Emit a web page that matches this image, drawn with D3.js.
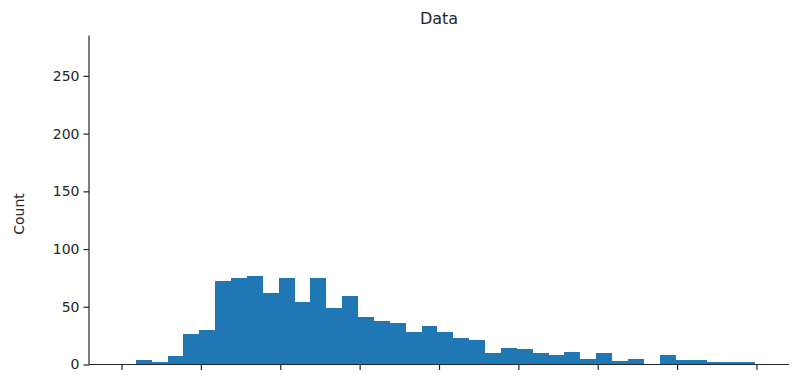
<!DOCTYPE html>
<html>
<head>
<meta charset="utf-8">
<script src="https://cdn.jsdelivr.net/npm/d3@7"></script>
<style>
  html, body { margin: 0; padding: 0; background: #fff; }
  svg { display: block; font-family: "DejaVu Sans", sans-serif; }
</style>
</head>
<body>
<svg id="chart" width="795" height="375"></svg>
<script>
// Histogram counts, one per bin, left to right
const counts = [4, 2, 7, 26, 30, 72, 75, 77, 62, 75, 54, 75, 49, 59, 41, 38, 36, 28, 33, 28,
                23, 21, 10, 14, 13, 10, 8, 11, 5, 10, 3, 5, 0, 8, 4, 4, 2, 2, 2];
// First bin edge and bin width, in data units
const binStart = 0.18;
const binWidth = 0.2;
// Axis ticks
const xTicks = [0, 1, 2, 3, 4, 5, 6, 7, 8];
const yTicks = [0, 50, 100, 150, 200, 250];
const xDomain = [-0.41, 8.41];
const yDomain = [0, 285];

const title = "Data";
const yLabel = "Count";

const ink = "#262626";
const barColor = "#1f77b4";

const svg = d3.select("#chart");
const plot = { left: 89, right: 789, top: 35.5, bottom: 364.5 };

const x = d3.scaleLinear().domain(xDomain).range([plot.left, plot.right]);
const y = d3.scaleLinear().domain(yDomain).range([plot.bottom, plot.top]);

const bins = counts.map((c, i) => ({
  x0: binStart + i * binWidth,
  x1: binStart + (i + 1) * binWidth,
  count: c
}));

// Bars (crisp edges so neighbouring bins merge without seams)
svg.append("g")
  .attr("shape-rendering", "crispEdges")
  .selectAll("rect")
  .data(bins.filter(d => d.count > 0))
  .join("rect")
  .attr("x", d => x(d.x0))
  .attr("width", d => x(d.x1) - x(d.x0))
  .attr("y", d => y(d.count))
  .attr("height", d => y(0) - y(d.count))
  .attr("fill", barColor);

// Y axis
const yAxis = svg.append("g")
  .attr("transform", `translate(${plot.left},0)`)
  .call(d3.axisLeft(y).tickValues(yTicks).tickSize(5.5).tickPadding(4));
yAxis.select(".domain").remove();
yAxis.selectAll(".tick line").attr("stroke", ink).attr("stroke-width", 1.2);
yAxis.selectAll(".tick text")
  .attr("fill", ink)
  .style("font-size", "14px")
  .style("font-family", "DejaVu Sans, sans-serif");
yAxis.append("line")
  .attr("x1", 0).attr("x2", 0)
  .attr("y1", plot.top).attr("y2", plot.bottom)
  .attr("stroke", ink).attr("stroke-width", 1.2);

// X axis (ticks without labels)
const xAxis = svg.append("g")
  .attr("transform", `translate(0,${plot.bottom})`)
  .call(d3.axisBottom(x).tickValues(xTicks).tickSize(5.5).tickFormat(() => ""));
xAxis.select(".domain").remove();
xAxis.selectAll(".tick line").attr("stroke", ink).attr("stroke-width", 1.2);
xAxis.append("line")
  .attr("x1", plot.left).attr("x2", plot.right)
  .attr("y1", 0).attr("y2", 0)
  .attr("stroke", ink).attr("stroke-width", 1.2);

// Title
svg.append("text")
  .attr("x", (plot.left + plot.right) / 2)
  .attr("y", 24)
  .attr("text-anchor", "middle")
  .attr("fill", ink)
  .style("font-size", "16px")
  .text(title);

// Y label
svg.append("text")
  .attr("transform", "translate(24,214) rotate(-90)")
  .attr("text-anchor", "middle")
  .attr("fill", ink)
  .style("font-size", "14px")
  .text(yLabel);
</script>
</body>
</html>
